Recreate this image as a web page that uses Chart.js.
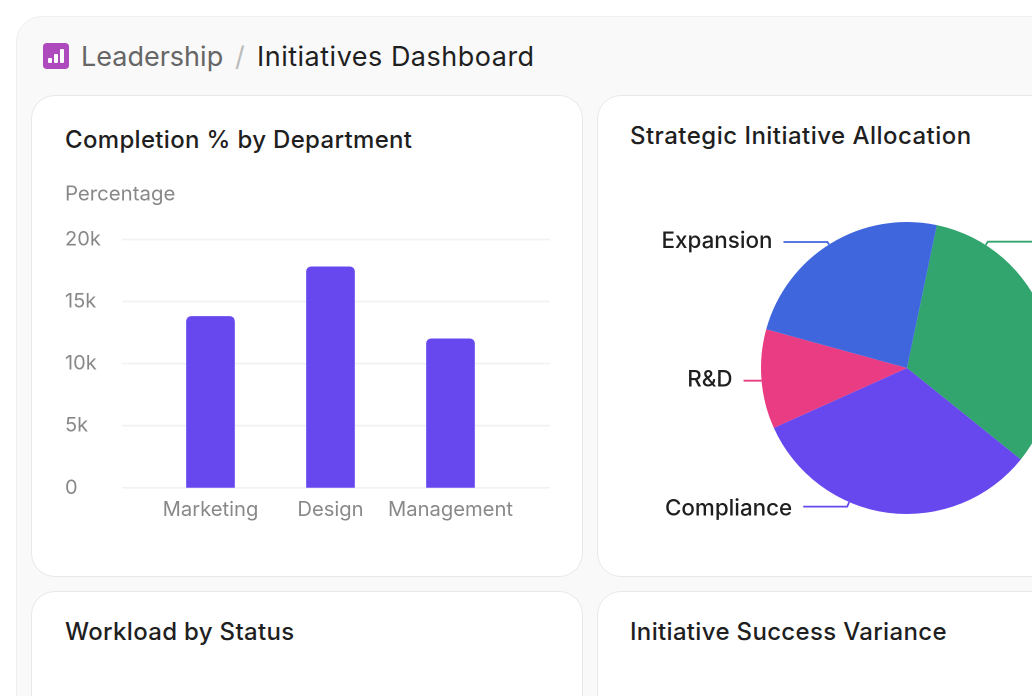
<!DOCTYPE html>
<html><head><meta charset="utf-8">
<script src="https://cdn.jsdelivr.net/npm/chart.js@4"></script>
<style>
html,body{margin:0;padding:0;background:#fff;width:1032px;height:696px;overflow:hidden;font-family:Inter,sans-serif}
.panel{position:absolute;left:16px;top:16px;width:1200px;height:900px;background:#f9f9f9;border:1px solid #efefef;border-radius:26px;box-sizing:border-box}
.crumb{position:absolute;white-space:nowrap;font-size:27px;line-height:32px;top:41px}
.card{position:absolute;width:552px;height:482px;background:#fff;border:1px solid #e8e8e8;border-radius:24px;box-sizing:border-box}
.title{position:absolute;white-space:nowrap;font-size:24px;font-weight:500;color:#1f1f1f;line-height:28px;letter-spacing:.33px}
canvas{position:absolute}
.icon{position:absolute;left:43px;top:43px;width:26px;height:26px;border-radius:4px;background:#ad4abc}
.icon i{position:absolute;background:#fff;width:4px;border-radius:1px;bottom:6px}
</style></head><body>
<div class="panel"></div>
<div class="icon"><i style="left:5px;height:5px"></i><i style="left:11px;height:9px"></i><i style="left:17px;height:14px"></i></div>
<div class="crumb" style="left:81px;color:#666">Leadership</div>
<div class="crumb" style="left:235px;color:#bbb">/</div>
<div class="crumb" style="left:257px;color:#1f1f1f;letter-spacing:.5px">Initiatives Dashboard</div>

<div class="card" style="left:31px;top:95px"></div>
<div class="card" style="left:597px;top:95px"></div>
<div class="card" style="left:31px;top:591px"></div>
<div class="card" style="left:597px;top:591px"></div>
<div class="title" style="left:65px;top:126px">Completion % by Department</div>
<div class="title" style="left:630px;top:122px;letter-spacing:.47px">Strategic Initiative Allocation</div>
<div class="title" style="left:65px;top:618px">Workload by Status</div>
<div class="title" style="left:630px;top:618px">Initiative Success Variance</div>

<canvas id="bar" style="left:32px;top:170px;width:550px;height:390px"></canvas>
<canvas id="pie" style="left:598px;top:170px;width:550px;height:396px"></canvas>

<script>
const departments = ['Marketing', 'Design', 'Management'];
const completion = [13800, 17800, 12000];
const yTicks = [0, 5000, 10000, 15000, 20000];
const initiatives = ['', 'Compliance', 'R&D', 'Expansion'];
const allocation = [32.5, 32.5, 11, 24];
const sliceColors = ['#32a56f', '#6748ef', '#e93c82', '#4066de'];
const BAR = '#6748ef', GRID = '#f2f2f2', MUTED = '#888888', INK = '#1f1f1f';
const FONT = 'Inter, sans-serif';

const wideGrid = {
  id: 'wideGrid',
  beforeDatasetsDraw(chart) {
    const y = chart.scales.y, c = chart.ctx;
    c.save();
    c.strokeStyle = GRID; c.lineWidth = 1.8;
    y.ticks.forEach((t, i) => {
      const py = y.getPixelForTick(i);
      c.beginPath(); c.moveTo(chart.chartArea.left - 28.5, py); c.lineTo(chart.chartArea.right + 39.5, py); c.stroke();
    });
    c.restore();
  }
};

new Chart(document.getElementById('bar'), {
  type: 'bar',
  data: { labels: departments, datasets: [{ data: completion, backgroundColor: BAR, barThickness: 48,
    borderRadius: { topLeft: 5, topRight: 5, bottomLeft: 0, bottomRight: 0 }, borderSkipped: false }] },
  options: {
    responsive: false, animation: false, devicePixelRatio: 2,
    layout: { padding: { left: 33, right: 71.5, top: 0, bottom: 36 } },
    plugins: { legend: { display: false }, tooltip: { enabled: false },
      title: { display: true, text: 'Percentage', align: 'start', color: MUTED,
        font: { family: FONT, size: 20.4, weight: '400' }, padding: { top: 12, bottom: 33 } } },
    scales: {
      x: { grid: { display: false }, border: { display: false },
        ticks: { color: MUTED, font: { family: FONT, size: 20.2 }, maxRotation: 0, autoSkip: false, padding: 2 } },
      y: { min: 0, max: 20000, grid: { display: false }, border: { display: false },
        afterBuildTicks(s) { s.ticks = yTicks.map(v => ({ value: v })); },
        afterFit(s) { s.width = 85.5; },
        ticks: { color: MUTED, font: { family: FONT, size: 20 }, crossAlign: 'far', align: 'center',
          callback: v => v === 0 ? '0' : (v / 1000) + 'k' } }
    }
  },
  plugins: [wideGrid]
});

const leaders = {
  id: 'leaders',
  afterDatasetsDraw(chart, _a, opts) {
    const c = chart.ctx, meta = chart.getDatasetMeta(0);
    meta.data.forEach((arc, i) => {
      const p = arc.getProps(['x', 'y', 'startAngle', 'endAngle', 'outerRadius']);
      const a = p.startAngle + opts.along[i] * (p.endAngle - p.startAngle);
      const ux = Math.cos(a), uy = Math.sin(a), side = ux < 0 ? -1 : 1;
      const ex = p.x + ux * p.outerRadius, ey = p.y + uy * p.outerRadius;
      const kx = p.x + ux * (p.outerRadius + opts.kink[i]), ky = p.y + uy * (p.outerRadius + opts.kink[i]);
      const endX = kx + side * opts.run[i];
      c.save();
      c.strokeStyle = sliceColors[i]; c.lineWidth = 1.8;
      c.beginPath(); c.moveTo(ex, ey); c.lineTo(kx, ky); c.lineTo(endX, ky); c.stroke();
      c.fillStyle = INK; c.font = '500 22.4px ' + FONT;
      c.textAlign = side < 0 ? 'right' : 'left'; c.textBaseline = 'middle';
      if (initiatives[i]) c.fillText(initiatives[i], endX + side * 11, ky + opts.dy[i]);
      c.restore();
    });
  }
};

new Chart(document.getElementById('pie'), {
  type: 'pie',
  data: { labels: initiatives, datasets: [{ data: allocation, backgroundColor: sliceColors, borderWidth: 0 }] },
  options: {
    responsive: false, animation: false, devicePixelRatio: 2, radius: 146, rotation: 11.8,
    layout: { padding: { left: 68 } },
    plugins: { legend: { display: false }, tooltip: { enabled: false },
      leaders: { along: [0.178, 0.637, 0.485, 0.49], run: [46, 44, 18, 44], kink: [4, 5, 0, 3], dy: [0, 2, -1, -0.5] } }
  },
  plugins: [leaders]
});
</script>
</body></html>
